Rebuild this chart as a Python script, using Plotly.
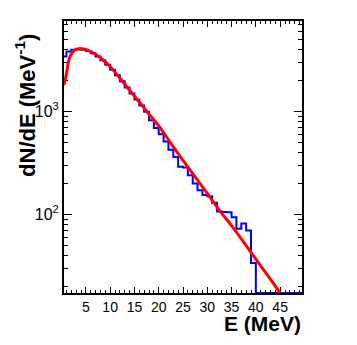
import plotly.graph_objects as go

# energy spectrum histogram, 1 MeV bins (left edges), counts per MeV
bin_lo = list(range(0, 50))
counts = [3400, 3800, 3950, 3980, 3950, 3850, 3650, 3400, 3130, 2830,
          2530, 2230, 1960, 1700, 1490, 1300, 1140, 990, 820, 690,
          600, 510, 425, 360, 290, 285, 240, 200, 172, 155,
          150, 130, 107, 106, 105, 94, 73, 82, 70, 34,
          0, 0, 0, 0, 0, 0, 0, 0, 0, 0]

# fitted curve
fit_e = [0.5, 1.0, 1.6, 2.3, 3.0, 3.6, 4.5, 5.5, 6.7, 8.0, 10, 12, 14, 16,
         18, 20, 22.5, 25, 27.5, 30, 32.5, 35, 37.5, 40, 42.5, 45, 46]
fit_v = [1800, 2300, 3250, 3750, 3980, 4050, 4020, 3900, 3630, 3300, 2700,
         2100, 1600, 1230, 940, 725, 490, 335, 232, 160, 110, 78, 54, 37,
         25.5, 17.4, 15]

x_range = [0.5, 49.5]
y_lo, y_hi = 1.24, 3.875  # log10 limits
x_ticks = [5, 10, 15, 20, 25, 30, 35, 40, 45]
y_ticks = [100, 1000]
y_ticktext = ['10<sup>2</sup>', '10<sup>3</sup>']
y_minor = [20, 30, 40, 50, 60, 70, 80, 90,
           200, 300, 400, 500, 600, 700, 800, 900,
           2000, 3000, 4000, 5000, 6000, 7000]

# step outline, empty bins drawn on the floor like ROOT does
floor = 10 ** y_lo
hx = [bin_lo[0]] + bin_lo + [bin_lo[-1] + 1]
hy = [floor] + [c if c > 0 else floor for c in counts] + [counts[-1] if counts[-1] > 0 else floor]

fig = go.Figure()
fig.add_trace(go.Scatter(
    x=hx, y=hy, mode='lines', line=dict(color='#0000ff', width=2, shape='hv'),
    showlegend=False, hoverinfo='skip'))
fig.add_trace(go.Scatter(
    x=fit_e, y=fit_v, mode='lines', line=dict(color='#ff0000', width=3, shape='spline'),
    showlegend=False, hoverinfo='skip'))

font = 'Liberation Sans, Arial, sans-serif'
fig.update_xaxes(
    range=x_range, showgrid=False, zeroline=False,
    showline=True, linecolor='black', linewidth=2, mirror='allticks',
    ticks='inside', ticklen=6, tickwidth=1, tickcolor='black',
    tickvals=x_ticks, tickfont=dict(family=font, size=14, color='black'),
    minor=dict(dtick=1, tick0=0, ticks='inside', ticklen=3, tickcolor='black', showgrid=False),
    layer='below traces')
fig.update_yaxes(
    type='log', range=[y_lo, y_hi], showgrid=False, zeroline=False,
    showline=True, linecolor='black', linewidth=2, mirror='allticks',
    ticks='inside', ticklen=8, tickwidth=1, tickcolor='black',
    tickvals=y_ticks, ticktext=y_ticktext,
    tickfont=dict(family=font, size=16, color='black'),
    minor=dict(tickvals=y_minor, ticks='inside', ticklen=4, tickcolor='black', showgrid=False),
    layer='below traces')

fig.add_annotation(
    text='<b>E (MeV)</b>', xref='paper', yref='paper', x=1.004, y=-0.112,
    xanchor='right', yanchor='middle', showarrow=False,
    font=dict(family=font, size=21, color='black'))
fig.add_annotation(
    text='<b>dN/dE (MeV<sup>-1</sup>)</b>', xref='paper', yref='paper', x=-0.094, y=0.69,
    xanchor='right', yanchor='middle', textangle=-90, showarrow=False,
    font=dict(family=font, size=22, color='black'))

# page body has an 8 px margin, so the figure is 8 px smaller than the window
fig.update_layout(
    width=349, height=337,
    margin=dict(l=56, r=55, t=11, b=52),
    paper_bgcolor='white', plot_bgcolor='white',
)
fig.write_html("out.html")
